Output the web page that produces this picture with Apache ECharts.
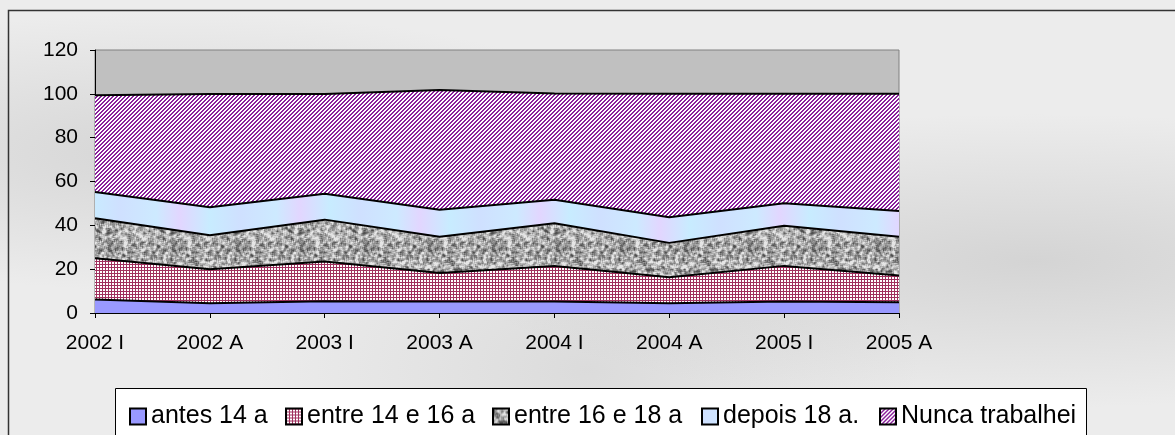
<!DOCTYPE html>
<html>
<head>
<meta charset="utf-8">
<script src="https://cdn.jsdelivr.net/npm/echarts@6/dist/echarts.min.js"></script>
<style>
  html, body { margin: 0; padding: 0; }
  body {
    width: 1175px; height: 435px; overflow: hidden;
    background:
      radial-gradient(ellipse at 15% 35%, rgba(160,160,160,0.30), rgba(0,0,0,0) 35%),
      radial-gradient(ellipse at 88% 60%, rgba(150,150,150,0.28), rgba(0,0,0,0) 40%),
      radial-gradient(ellipse at 50% 85%, rgba(170,170,170,0.25), rgba(0,0,0,0) 40%),
      #ececec;
  }
  #main { width: 1175px; height: 435px; }
</style>
</head>
<body>
<div id="main"></div>
<script>
// periodos
var categories = ['2002 I', '2002 A', '2003 I', '2003 A', '2004 I', '2004 A', '2005 I', '2005 A'];

// percentagens (empilhadas)
var antes14 = [6.2, 4.5, 5.4, 5.2, 5.2, 4.5, 5.2, 4.9];
var entre14e16 = [18.8, 15.5, 18.1, 13.0, 16.2, 11.8, 16.3, 12.2];
var entre16e18 = [18.2, 15.5, 19.1, 16.6, 19.6, 15.7, 18.3, 17.7];
var depois18 = [12.0, 12.7, 11.8, 12.3, 10.7, 11.7, 10.3, 11.7];
var nuncaTrabalhei = [44.1, 51.7, 45.5, 54.6, 48.5, 56.3, 49.9, 53.5];

var names = ['antes 14 a', 'entre 14 e 16 a', 'entre 16 e 18 a', 'depois 18 a.', 'Nunca trabalhei'];

// padroes de preenchimento
function makeCanvas(w, h, draw) {
  var c = document.createElement('canvas');
  c.width = w; c.height = h;
  draw(c.getContext('2d'), w, h);
  return c;
}

var gridPat = makeCanvas(3, 3, function (ctx) {
  ctx.fillStyle = '#ffffff';
  ctx.fillRect(0, 0, 3, 3);
  ctx.fillStyle = '#a0305e';
  ctx.fillRect(0, 0, 3, 1);
  ctx.fillRect(0, 0, 1, 3);
});

var diagPat = makeCanvas(4, 4, function (ctx) {
  ctx.fillStyle = '#ffffff';
  ctx.fillRect(0, 0, 4, 4);
  ctx.fillStyle = '#8a1f9c';
  for (var y = 0; y < 4; y++)
    for (var x = 0; x < 4; x++)
      if ((x + y) % 4 < 2) ctx.fillRect(x, y, 1, 1);
});

function hash(x, y) {
  var s = Math.sin(x * 12.9898 + y * 78.233) * 43758.5453;
  return s - Math.floor(s);
}

var granitePat = makeCanvas(64, 64, function (ctx, w, h) {
  var img = ctx.createImageData(w, h);
  for (var y = 0; y < h; y++) {
    for (var x = 0; x < w; x++) {
      var v = 0;
      for (var dy = -1; dy <= 1; dy++)
        for (var dx = -1; dx <= 1; dx++)
          v += hash(((x + dx) + w) % w, ((y + dy) + h) % h);
      v = v / 9;
      var g = Math.round(165 + (v - 0.5) * 420);
      g = Math.max(80, Math.min(230, g));
      var k = (y * w + x) * 4;
      img.data[k] = g; img.data[k + 1] = g; img.data[k + 2] = g; img.data[k + 3] = 255;
    }
  }
  ctx.putImageData(img, 0, 0);
});

var bluePat = makeCanvas(120, 40, function (ctx, w, h) {
  var g = ctx.createLinearGradient(0, 0, w, 0);
  g.addColorStop(0, '#cfe0ff');
  g.addColorStop(0.3, '#cdeaff');
  g.addColorStop(0.5, '#e2d6ff');
  g.addColorStop(0.75, '#c8ecff');
  g.addColorStop(1, '#cfe0ff');
  ctx.fillStyle = g;
  ctx.fillRect(0, 0, w, h);
});

var fills = [
  '#9999ff',
  { image: gridPat, repeat: 'repeat' },
  { image: granitePat, repeat: 'repeat' },
  { image: bluePat, repeat: 'repeat' },
  { image: diagPat, repeat: 'repeat' }
];
var values = [antes14, entre14e16, entre16e18, depois18, nuncaTrabalhei];
var legendLeft = [124, 280, 487, 696, 874];

var series = names.map(function (n, i) {
  return {
    name: n,
    type: 'line',
    stack: 'total',
    symbol: 'none',
    data: values[i],
    lineStyle: { color: '#000000', width: 2 },
    itemStyle: { color: fills[i], borderColor: '#000000', borderWidth: 1 },
    areaStyle: { color: fills[i], opacity: 1 },
    emphasis: { disabled: true }
  };
});

var legends = names.map(function (n, i) {
  return {
    left: legendLeft[i], top: 399,
    itemWidth: 16, itemHeight: 16, itemGap: 0,
    icon: 'rect',
    textStyle: { fontSize: 25, lineHeight: 25, color: '#000', fontFamily: 'Liberation Sans, Arial, sans-serif' },
    data: [n]
  };
});

var chart = echarts.init(document.getElementById('main'), null, { renderer: 'canvas' });

var option = {
  animation: false,
  backgroundColor: 'transparent',
  textStyle: { fontFamily: 'Liberation Sans, Arial, sans-serif', color: '#000' },
  grid: {
    left: 95, right: 276, top: 50, bottom: 122,
    show: true, backgroundColor: '#c0c0c0', borderColor: '#808080', borderWidth: 1
  },
  graphic: [
    { type: 'rect', shape: { x: 8.5, y: 10.5, width: 1200, height: 500 },
      style: { fill: null, stroke: '#333', lineWidth: 1.5 }, silent: true },
    { type: 'rect', shape: { x: 115.5, y: 388.5, width: 971, height: 80 },
      style: { fill: '#ffffff', stroke: '#000', lineWidth: 1 }, silent: true, z: -1 }
  ],
  legend: legends,
  xAxis: {
    type: 'category',
    data: categories,
    boundaryGap: false,
    axisLine: { lineStyle: { color: '#000', width: 1 } },
    axisTick: { show: true, length: 5, inside: false, lineStyle: { color: '#000' } },
    axisLabel: { fontSize: 21, color: '#000', margin: 20 },
    splitLine: { show: false }
  },
  yAxis: {
    type: 'value',
    min: 0, max: 120, interval: 20,
    axisLine: { show: true, lineStyle: { color: '#000', width: 1 } },
    axisTick: { show: true, length: 5, lineStyle: { color: '#000' } },
    axisLabel: { fontSize: 21, color: '#000', margin: 17 },
    splitLine: { show: false }
  },
  series: series
};

chart.setOption(option);
</script>
</body>
</html>
